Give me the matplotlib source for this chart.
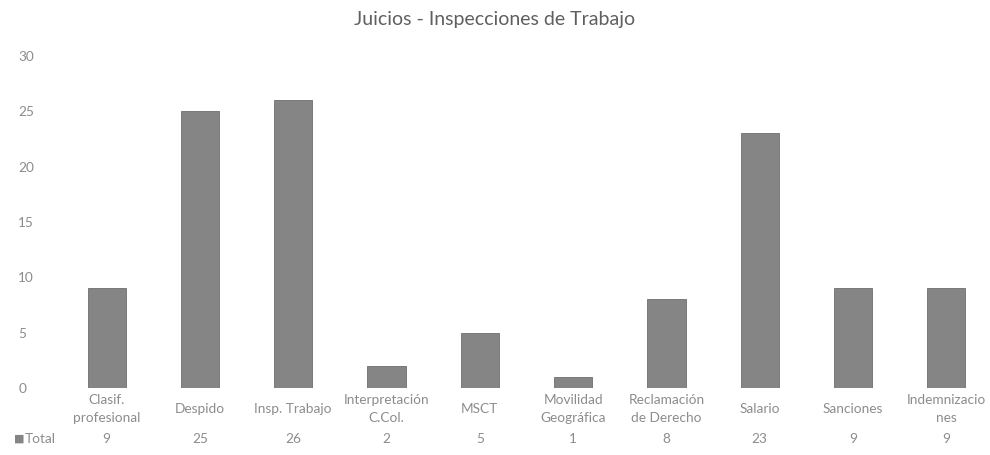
import numpy as np
import matplotlib
matplotlib.use('Agg')
import matplotlib.pyplot as plt
from matplotlib import transforms

plt.rcParams['font.family'] = ['Lato', 'DejaVu Sans']

# Data
categorias = ['Clasif.\nprofesional', 'Despido', 'Insp. Trabajo', 'Interpretación\nC.Col.',
              'MSCT', 'Movilidad\nGeográfica', 'Reclamación\nde Derecho', 'Salario',
              'Sanciones', 'Indemnizacio\nnes']
total = [9, 25, 26, 2, 5, 1, 8, 23, 9, 9]
yticks = [0, 5, 10, 15, 20, 25, 30]

bar_color = '#858585'
text_color = '#8c8c8c'
fs = 9.8

fig = plt.figure(figsize=(9.9, 4.55), dpi=100)
ax = fig.add_axes([60/990, 1 - 388/455, 933/990, (388 - 56)/455])

x = np.arange(len(categorias))
ax.bar(x, total, width=0.41, color=bar_color, edgecolor='#6e6e6e', linewidth=0.6)

ax.set_xlim(-0.5, len(categorias) - 0.5)
ax.set_ylim(0, 30)
ax.set_yticks(yticks)
ax.set_yticklabels([str(v) for v in yticks], color=text_color, fontsize=fs)
ax.tick_params(axis='y', length=0, pad=30)
for lbl in ax.get_yticklabels():
    lbl.set_horizontalalignment('left')

ax.set_xticks(x)
ax.set_xticklabels(categorias, color=text_color, fontsize=fs, linespacing=1.55)
ax.tick_params(axis='x', length=0, pad=15)
for lbl in ax.get_xticklabels():
    lbl.set_verticalalignment('center')

for s in ax.spines.values():
    s.set_visible(False)

# data table row
trans = transforms.blended_transform_factory(ax.transData, fig.transFigure)
for i, v in enumerate(total):
    ax.text(i, 1 - 439/455, str(v), transform=trans, ha='center', va='center',
            color=text_color, fontsize=fs)
fig.text(14/990, 1 - 439/455, '■', color=bar_color, ha='left', va='center', fontsize=8,
         family='DejaVu Sans')
fig.text(25/990, 1 - 439/455, 'Total', color=text_color, ha='left', va='center', fontsize=fs)

fig.suptitle('Juicios - Inspecciones de Trabajo', x=0.5, y=1 - 19/455, va='center',
             fontsize=14, color='#5f5f5f')

fig.savefig('out.png', dpi=100, facecolor='white')
